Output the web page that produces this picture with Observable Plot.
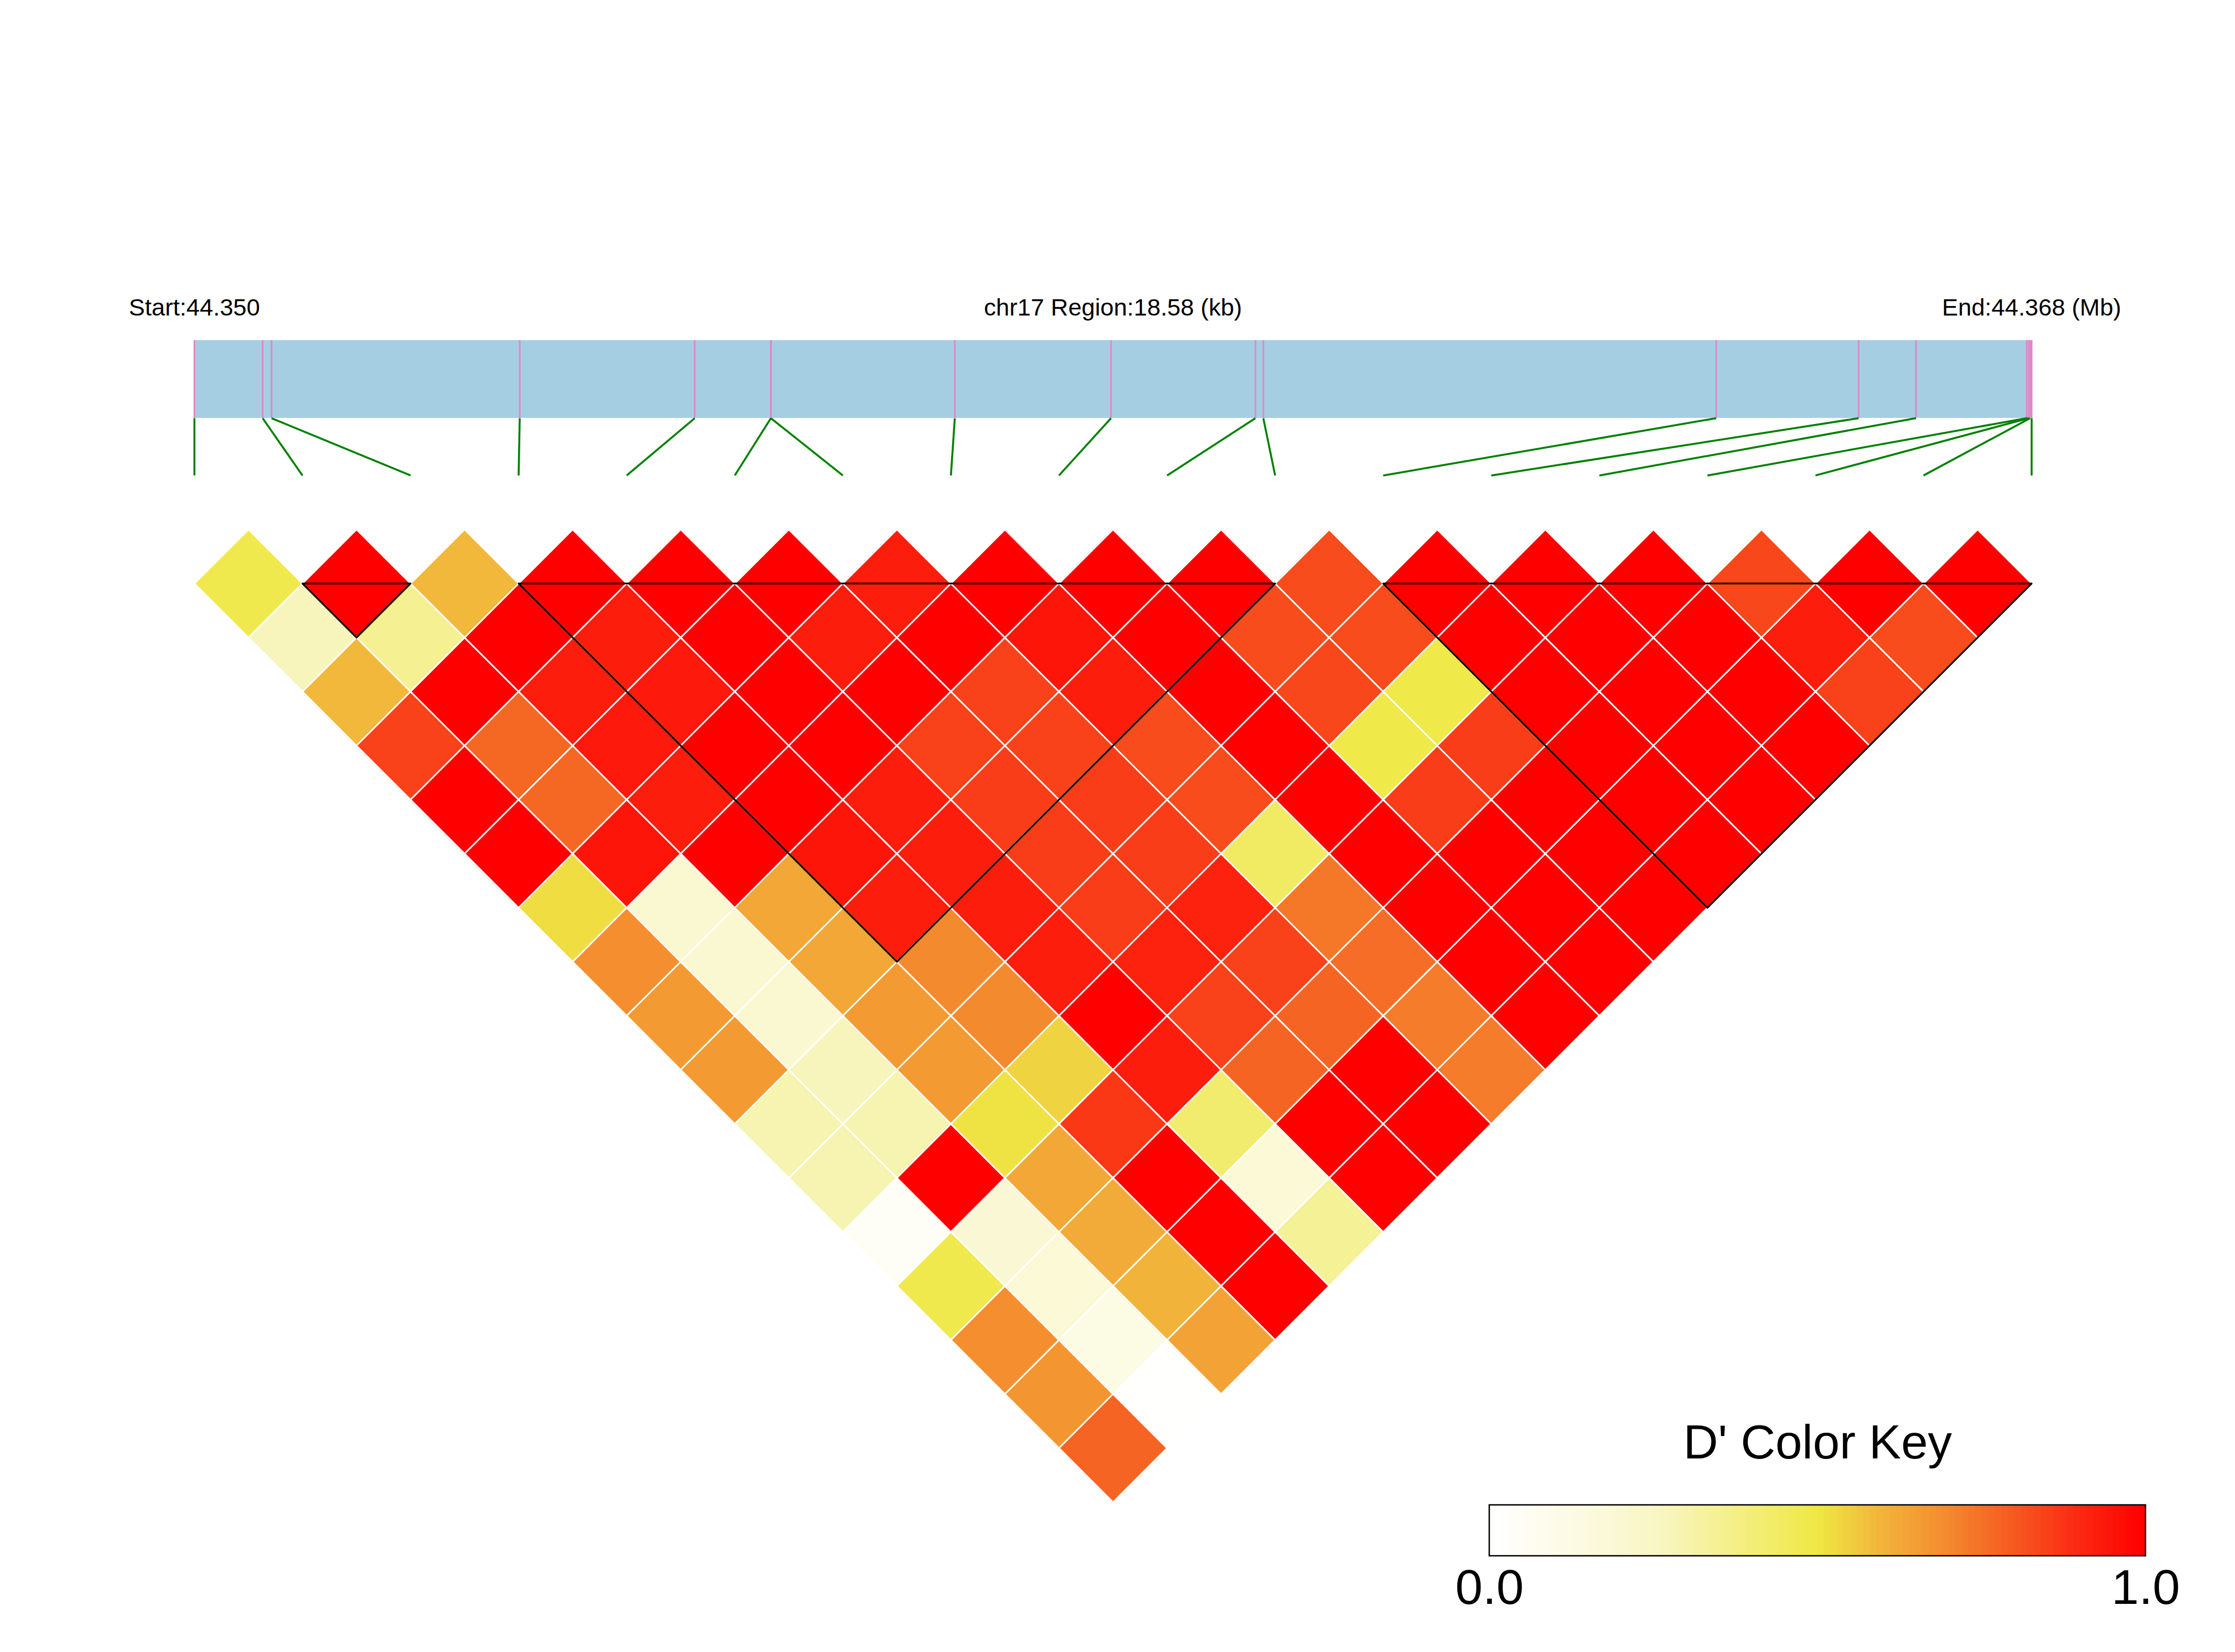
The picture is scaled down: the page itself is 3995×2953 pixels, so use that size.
<!DOCTYPE html>
<html>
<head>
<meta charset="utf-8">
<script src="https://cdn.jsdelivr.net/npm/d3@7"></script>
<script src="https://cdn.jsdelivr.net/npm/@observablehq/plot@0.6"></script>
<style>
  html, body { margin: 0; padding: 0; background: #ffffff; }
  #chart { position: relative; width: 3995px; height: 2953px; overflow: hidden; background: #ffffff; }
  #chart svg { position: absolute; max-width: none !important; }
</style>
</head>
<body>
<div id="chart"></div>
<script>
// ---------------- data ----------------
const chrom = "chr17";
const regionStartMb = 44.350;
const regionEndMb = 44.368;
const regionKb = 18.58;

// SNP positions, kb from region start
const snpPosKb = [0, 0.69, 0.78, 3.29, 5.06, 5.83, 5.83, 7.69, 9.27, 10.73, 10.81,
                  15.39, 16.83, 17.41, 18.53, 18.55, 18.565, 18.58];

// pairwise D' : row i lists D'(i, j) for j = i+1 .. 17
const dprimeRows = [
  [0.48, 0.27, 0.59, 0.85, 1, 1, 0.52, 0.69, 0.66, 0.66, 0.29, 0.29, 0.04, 0.48, 0.69, 0.67, 0.78],
  [1, 0.35, 1, 0.77, 0.77, 0.95, 0.2, 0.2, 0.2, 0.27, 0.29, 1, 0.19, 0.18, 0.12, 0.01],
  [0.59, 1, 0.93, 0.94, 0.93, 1, 0.63, 0.63, 0.66, 0.66, 0.51, 0.63, 0.62, 0.6, 0.64],
  [1, 0.93, 0.94, 1, 1, 0.95, 0.93, 0.7, 0.7, 0.54, 0.87, 1, 1, 1],
  [1, 1, 1, 1, 0.93, 0.93, 0.93, 0.93, 1, 0.93, 0.42, 0.18, 0.34],
  [1, 0.93, 1, 0.85, 0.86, 0.86, 0.86, 0.92, 0.85, 0.78, 1, 1],
  [0.93, 1, 0.85, 0.85, 0.86, 0.86, 0.92, 0.85, 0.78, 1, 1],
  [1, 0.95, 0.93, 0.83, 0.83, 0.44, 0.74, 0.76, 0.73, 0.73],
  [1, 1, 1, 1, 1, 1, 1, 1, 1],
  [1, 0.83, 0.84, 0.49, 0.86, 1, 1, 1],
  [0.83, 0.83, 0.49, 0.86, 1, 1, 1],
  [1, 1, 1, 1, 1, 1],
  [1, 1, 1, 1, 1],
  [1, 1, 1, 1],
  [0.84, 0.93, 0.85],
  [1, 0.83],
  [1]
];

// haplotype blocks (first SNP index, last SNP index)
const ldBlocks = [[1, 2], [3, 10], [11, 17]];

// colour key
const colorStops = [0, 0.25, 0.5, 0.6, 0.7, 0.8, 0.9, 1];
const colorStopColors = ["#FFFFFF", "#F9F6C6", "#EFE844", "#F2B33A", "#F48A2E", "#F65A20", "#FB2A12", "#FF0000"];
const keyTicks = [0, 1];
const keyTitle = "D' Color Key";

// ---------------- layout ----------------
const W = 3995, H = 2953;
const nSnp = snpPosKb.length;
const X_RANGE = [347, 3631];
const UNIT = (X_RANGE[1] - X_RANGE[0]) / (nSnp - 1);
const Y_TOP = 946;
const Y_MAX = nSnp / 2;
const MAP_TOP = -1.75, MAP_BOTTOM = -1.03, LINK_END = -0.5, HEADER_Y = -1.98;
const FONT = "Liberation Sans, Arial, Helvetica, sans-serif";

const colorSpec = { type: "linear", domain: colorStops, range: colorStopColors, interpolate: "rgb" };
const kbToU = kb => kb / regionKb * (nSnp - 1);

// ---------------- derived tables ----------------
const snps = snpPosKb.map((kb, index) => ({ index, kb }));

const cells = [];
dprimeRows.forEach((row, i) => row.forEach((v, k) => cells.push({ i, j: i + k + 1, v })));
const cellVerts = cells.flatMap((c, id) => {
  const u = (c.i + c.j) / 2, w = (c.j - c.i) / 2;
  return [[u, w - 0.5], [u + 0.5, w], [u, w + 0.5], [u - 0.5, w]]
    .map(([x, y]) => ({ id, x, y, v: c.v }));
});

const blockVerts = ldBlocks.flatMap(([a, b], id) =>
  [[a, 0.5], [b, 0.5], [(a + b) / 2, (b - a + 1) / 2]].map(([x, y]) => ({ id, x, y })));

const headerLabels = [
  { u: 0, text: `Start:${regionStartMb.toFixed(3)}` },
  { u: (nSnp - 1) / 2, text: `${chrom} Region:${regionKb} (kb)` },
  { u: nSnp - 1, text: `End:${regionEndMb.toFixed(3)} (Mb)` }
];

// ---------------- main plot ----------------
const main = Plot.plot({
  width: W,
  height: H,
  x: { domain: [0, nSnp - 1], range: X_RANGE, axis: null },
  y: { domain: [0, Y_MAX], range: [Y_TOP, Y_TOP + UNIT * Y_MAX], axis: null },
  color: colorSpec,
  style: { background: "white", fontFamily: FONT },
  marks: [
    Plot.rect([{ a: 0, b: regionKb }], {
      x1: d => kbToU(d.a), x2: d => kbToU(d.b),
      y1: () => MAP_TOP, y2: () => MAP_BOTTOM,
      fill: "#A6CEE3"
    }),
    Plot.ruleX(snps, {
      x: d => kbToU(d.kb), y1: () => MAP_TOP, y2: () => MAP_BOTTOM,
      stroke: "#DD8AC6", strokeWidth: 3
    }),
    Plot.link(snps, {
      x1: d => kbToU(d.kb), y1: () => MAP_BOTTOM,
      x2: d => d.index, y2: () => LINK_END,
      stroke: "#008000", strokeWidth: 3.5
    }),
    Plot.text(headerLabels, {
      x: "u", y: () => HEADER_Y, text: "text",
      fontSize: 43, fontFamily: FONT, fill: "black",
      textAnchor: "middle", lineAnchor: "bottom"
    }),
    Plot.line(cellVerts, {
      x: "x", y: "y", z: "id", fill: "v",
      stroke: "white", strokeWidth: 2.7, curve: "linear-closed"
    }),
    Plot.line(blockVerts, {
      x: "x", y: "y", z: "id", fill: "none",
      stroke: "black", strokeWidth: 3, curve: "linear-closed"
    })
  ]
});
main.style.left = "0px";
main.style.top = "0px";

// ---------------- colour key ----------------
const KEY_LEFT = 2400, KEY_TOP = 2440, KEY_W = 1595, KEY_H = 513;
const keyStripes = d3.range(100).map(k => ({ x1: k / 100, x2: (k + 1) / 100, v: k / 99 }));
const key = Plot.plot({
  width: KEY_W,
  height: KEY_H,
  x: { domain: [0, 1], range: [262, 1435], axis: null },
  y: { domain: [0, 1], range: [250, 341], axis: null },
  color: colorSpec,
  style: { background: "transparent", fontFamily: FONT },
  marks: [
    Plot.rect(keyStripes, {
      x1: "x1", x2: "x2", y1: () => 0, y2: () => 1, fill: "v", shapeRendering: "crispEdges"
    }),
    Plot.rect([{ a: 0, b: 1 }], {
      x1: "a", x2: "b", y1: () => 0, y2: () => 1, fill: "none", stroke: "black", strokeWidth: 2.5
    }),
    Plot.text([keyTitle], {
      x: () => 0.5, y: () => -0.923, text: d => d,
      fontSize: 86, fontFamily: FONT, fill: "black", lineAnchor: "bottom"
    }),
    Plot.text(keyTicks, {
      x: d => d, y: () => 1.945, text: d => d.toFixed(1),
      fontSize: 88, fontFamily: FONT, fill: "black", lineAnchor: "bottom"
    })
  ]
});
key.style.left = KEY_LEFT + "px";
key.style.top = KEY_TOP + "px";

const chart = document.getElementById("chart");
chart.appendChild(main);
chart.appendChild(key);
</script>
</body>
</html>
